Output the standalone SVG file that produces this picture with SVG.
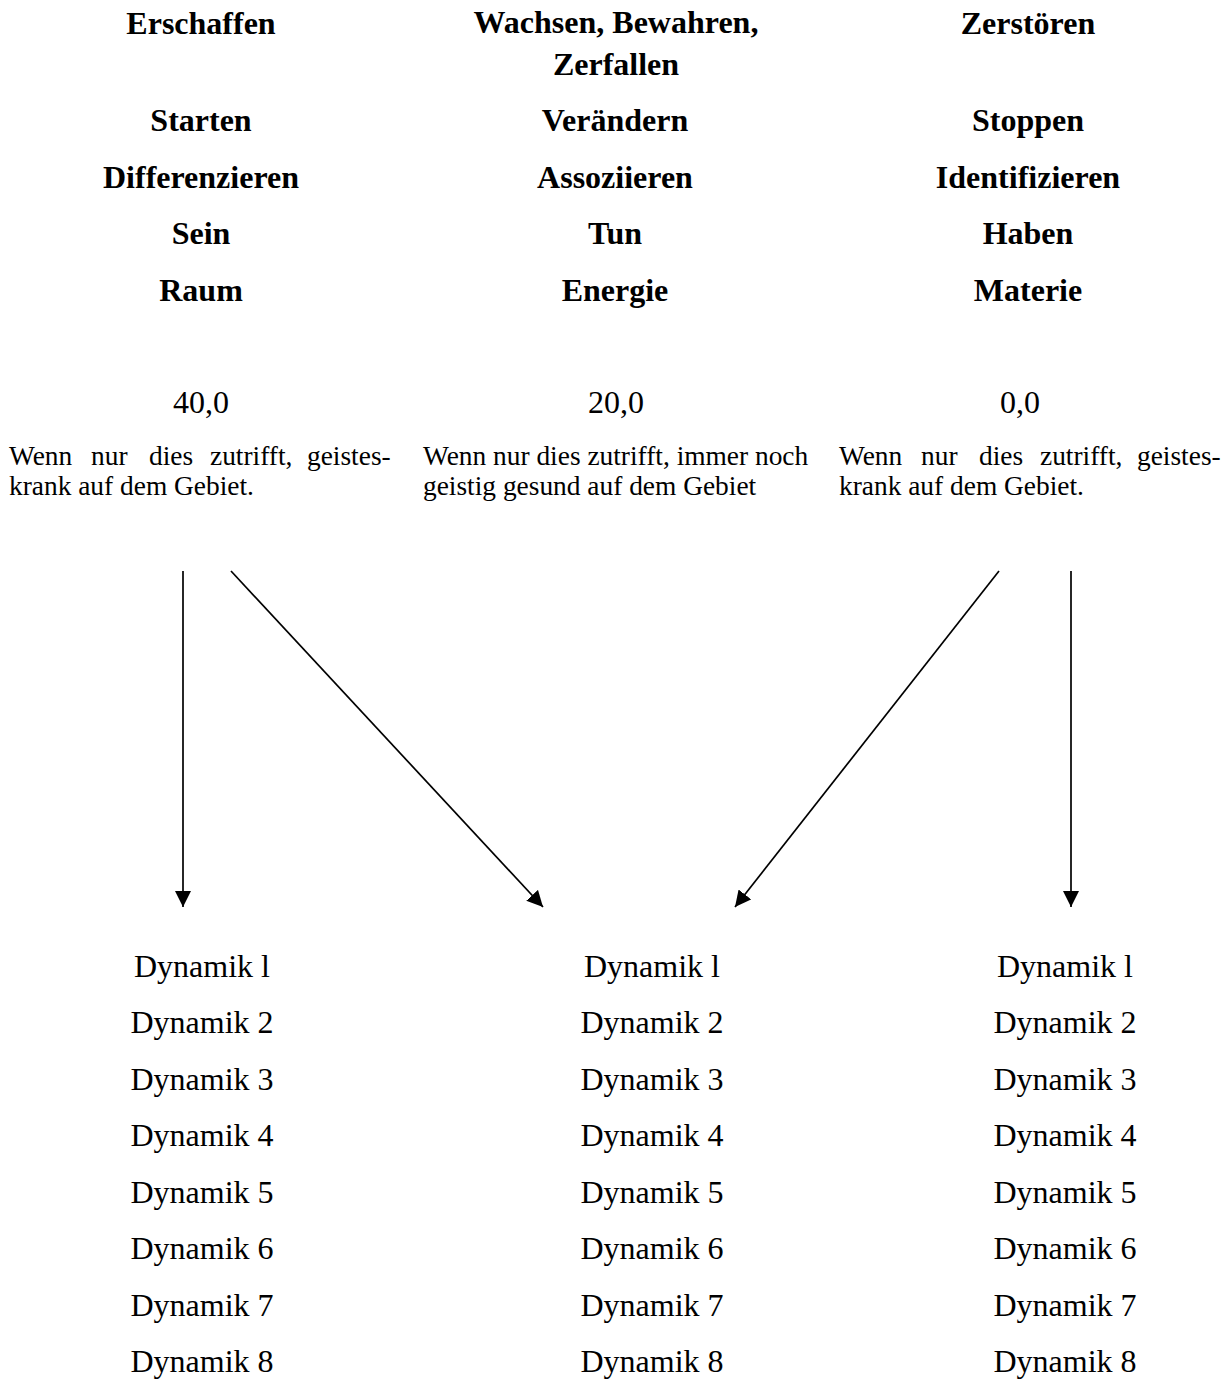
<svg xmlns="http://www.w3.org/2000/svg" width="1231" height="1379" viewBox="0 0 1231 1379">
<style>
text{font-family:"Liberation Serif","Times New Roman",serif;fill:#000}
.h{font-size:32px;font-weight:bold;text-anchor:middle}
.n{font-size:32px;text-anchor:middle}
.p{font-size:27.4px}
.c{stroke:#000;stroke-width:1.7;fill:none}
</style>
<defs>
<marker id="ah" markerUnits="userSpaceOnUse" markerWidth="16" markerHeight="16" viewBox="0 0 16 16" refX="16" refY="8" orient="auto">
<path d="M0,0 L16,8 L0,16 Z" fill="#000"/>
</marker>
</defs>
<rect width="1231" height="1379" fill="#fff"/>
<g id="col-left">
<text class="h" x="201" y="34">Erschaffen</text>
<text class="h" x="201" y="131">Starten</text>
<text class="h" x="201" y="188">Differenzieren</text>
<text class="h" x="201" y="244">Sein</text>
<text class="h" x="201" y="301">Raum</text>
<text class="n" x="201" y="413">40,0</text>
<text class="p" y="465"><tspan x="9">Wenn</tspan><tspan x="91">nur</tspan><tspan x="149">dies</tspan><tspan x="210">zutrifft,</tspan><tspan x="307">geistes-</tspan></text>
<text class="p" x="9" y="495">krank auf dem Gebiet.</text>
</g>
<g id="col-mid">
<text class="h" x="616" y="33">Wachsen, Bewahren,</text>
<text class="h" x="616" y="75">Zerfallen</text>
<text class="h" x="615" y="131">Verändern</text>
<text class="h" x="615" y="188">Assoziieren</text>
<text class="h" x="615" y="244">Tun</text>
<text class="h" x="615" y="301">Energie</text>
<text class="n" x="616" y="413">20,0</text>
<text class="p" x="423" y="465">Wenn nur dies zutrifft, immer noch</text>
<text class="p" x="423" y="495">geistig gesund auf dem Gebiet</text>
</g>
<g id="col-right">
<text class="h" x="1028" y="34">Zerstören</text>
<text class="h" x="1028" y="131">Stoppen</text>
<text class="h" x="1028" y="188">Identifizieren</text>
<text class="h" x="1028" y="244">Haben</text>
<text class="h" x="1028" y="301">Materie</text>
<text class="n" x="1020" y="413">0,0</text>
<text class="p" y="465"><tspan x="839">Wenn</tspan><tspan x="921">nur</tspan><tspan x="979">dies</tspan><tspan x="1040">zutrifft,</tspan><tspan x="1137">geistes-</tspan></text>
<text class="p" x="839" y="495">krank auf dem Gebiet.</text>
</g>
<g id="connectors">
<line class="c" x1="183" y1="571" x2="183" y2="907" marker-end="url(#ah)"/>
<line class="c" x1="231" y1="571" x2="543" y2="907" marker-end="url(#ah)"/>
<line class="c" x1="999" y1="571" x2="735" y2="907" marker-end="url(#ah)"/>
<line class="c" x1="1071" y1="571" x2="1071" y2="907" marker-end="url(#ah)"/>
</g>
<g id="dyn-left">
<text class="n" x="202" y="977">Dynamik l</text>
<text class="n" x="202" y="1033">Dynamik 2</text>
<text class="n" x="202" y="1090">Dynamik 3</text>
<text class="n" x="202" y="1146">Dynamik 4</text>
<text class="n" x="202" y="1203">Dynamik 5</text>
<text class="n" x="202" y="1259">Dynamik 6</text>
<text class="n" x="202" y="1316">Dynamik 7</text>
<text class="n" x="202" y="1372">Dynamik 8</text>
</g>
<g id="dyn-mid">
<text class="n" x="652" y="977">Dynamik l</text>
<text class="n" x="652" y="1033">Dynamik 2</text>
<text class="n" x="652" y="1090">Dynamik 3</text>
<text class="n" x="652" y="1146">Dynamik 4</text>
<text class="n" x="652" y="1203">Dynamik 5</text>
<text class="n" x="652" y="1259">Dynamik 6</text>
<text class="n" x="652" y="1316">Dynamik 7</text>
<text class="n" x="652" y="1372">Dynamik 8</text>
</g>
<g id="dyn-right">
<text class="n" x="1065" y="977">Dynamik l</text>
<text class="n" x="1065" y="1033">Dynamik 2</text>
<text class="n" x="1065" y="1090">Dynamik 3</text>
<text class="n" x="1065" y="1146">Dynamik 4</text>
<text class="n" x="1065" y="1203">Dynamik 5</text>
<text class="n" x="1065" y="1259">Dynamik 6</text>
<text class="n" x="1065" y="1316">Dynamik 7</text>
<text class="n" x="1065" y="1372">Dynamik 8</text>
</g>
</svg>
